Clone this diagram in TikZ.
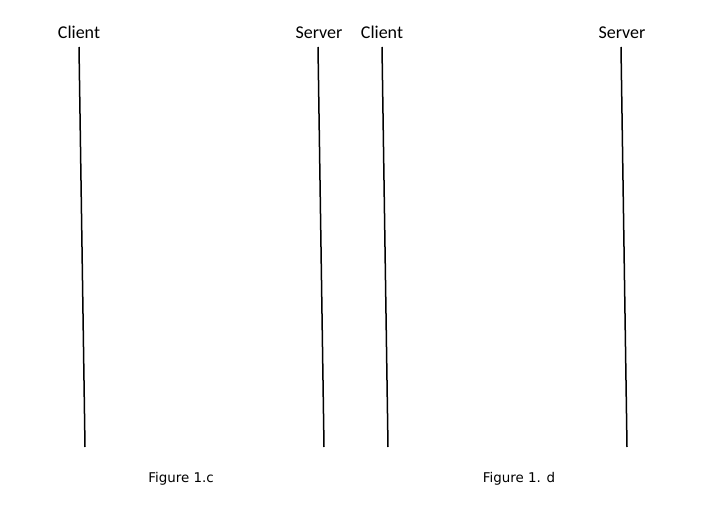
\documentclass[tikz,border=0pt]{standalone}
\usepackage{fontspec}
\setmainfont{Carlito}
\newfontfamily\capfont{DejaVu Sans}
\begin{document}
\begin{tikzpicture}[x=1pt,y=-1pt,
  lbl/.style={font=\fontsize{18}{21}\selectfont, inner sep=0pt},
  figcap/.style={font=\capfont\fontsize{13.4}{16}\selectfont, inner sep=0pt},
  life/.style={line width=1.5pt, black}]
\useasboundingbox[fill=white] (0,0) rectangle (705,511);
\node[lbl] (c1) at (79,32) {Client};
\node[lbl] (s1) at (319,33) {Server};
\node[lbl] (c2) at (382,32) {Client};
\node[lbl] (s2) at (622,33) {Server};
\coordinate (c1t) at (79,47); \coordinate (c1b) at (85,447);
\coordinate (s1t) at (318,47); \coordinate (s1b) at (324,447);
\coordinate (c2t) at (382,47); \coordinate (c2b) at (388,447);
\coordinate (s2t) at (621,47); \coordinate (s2b) at (627,447);
\draw[life] (c1t) -- (c1b);
\draw[life] (s1t) -- (s1b);
\draw[life] (c2t) -- (c2b);
\draw[life] (s2t) -- (s2b);
\node[figcap] (f1) at (181,479) {Figure 1.c};
\node[figcap] (f2) at (519,479) {Figure 1. d};
\end{tikzpicture}
\end{document}
